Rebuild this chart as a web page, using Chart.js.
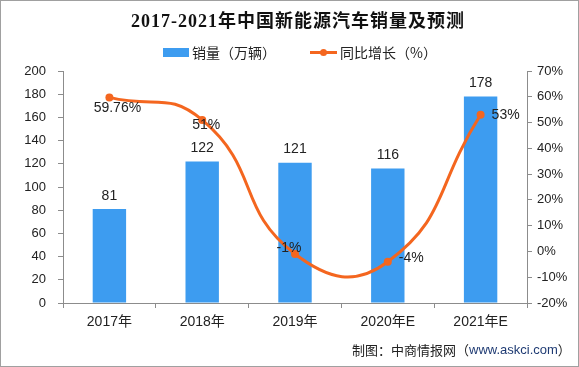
<!DOCTYPE html>
<html>
<head>
<meta charset="utf-8">
<script src="https://cdn.jsdelivr.net/npm/chart.js@4"></script>
<style>
  html, body { margin: 0; padding: 0; background: #fff; }
  #wrap { width: 579px; height: 367px; }
</style>
</head>
<body>
<div id="wrap"><canvas id="salesChart" width="579" height="367"></canvas></div>
<script>
// NEV sales 2017-2021 (with forecast)

const years = ['2017年', '2018年', '2019年', '2020年E', '2021年E'];
const sales = [81, 122, 121, 116, 178];
const growth = [59.76, 51, -1, -4, 53];
const growthText = ['59.76%', '51%', '-1%', '-4%', '53%'];

const titleText = '2017-2021年中国新能源汽车销量及预测';
const sourceText = '制图：中商情报网（';
const sourceUrl = 'www.askci.com';

const blue = '#3D9CF0';
const orange = '#F4661F';
const axisGray = '#8C8C8C';
const tickFont = { family: "'Liberation Sans', 'Noto Sans CJK SC'", size: 13 };

// where each growth label sits relative to its point
const growthPlace = [
  { dx: 8, dy: 11, align: 'center' },
  { dx: 4, dy: 5, align: 'center' },
  { dx: -6, dy: -6, align: 'center' },
  { dx: 11, dy: -4, align: 'left' },
  { dx: 11, dy: 0, align: 'left' }
];

const decorPlugin = {
  id: 'decor',
  beforeDraw(chart) {
    const ctx = chart.ctx;
    ctx.save();
    ctx.fillStyle = '#fff';
    ctx.fillRect(0, 0, chart.width, chart.height);
    ctx.restore();
  },
  afterDraw(chart) {
    const ctx = chart.ctx;
    ctx.save();

    // title
    ctx.fillStyle = '#111';
    ctx.font = "bold 18px 'Liberation Serif', 'Noto Sans CJK SC'";
    ctx.letterSpacing = '1px';
    ctx.textAlign = 'center';
    ctx.textBaseline = 'middle';
    ctx.fillText(titleText, 298, 22);
    ctx.letterSpacing = '0px';

    // legend
    ctx.font = "14px 'Noto Sans CJK SC'";
    ctx.textAlign = 'left';
    ctx.fillStyle = blue;
    ctx.fillRect(163, 48, 26, 9);
    ctx.fillStyle = '#222';
    ctx.fillText(chart.data.datasets[1].label, 192, 53);
    ctx.strokeStyle = orange;
    ctx.lineWidth = 3;
    ctx.beginPath();
    ctx.moveTo(310, 52.5);
    ctx.lineTo(337, 52.5);
    ctx.stroke();
    ctx.fillStyle = orange;
    ctx.beginPath();
    ctx.arc(323.5, 52.5, 3.5, 0, Math.PI * 2);
    ctx.fill();
    ctx.fillStyle = '#222';
    ctx.fillText(chart.data.datasets[0].label, 340, 53);

    // bar value labels
    ctx.font = "14px 'Liberation Sans'";
    ctx.textAlign = 'center';
    const barMeta = chart.getDatasetMeta(1);
    barMeta.data.forEach((bar, i) => {
      ctx.fillText(String(sales[i]), bar.x, bar.y - 13);
    });

    // growth labels
    const lineMeta = chart.getDatasetMeta(0);
    lineMeta.data.forEach((pt, i) => {
      const p = growthPlace[i];
      ctx.textAlign = p.align;
      ctx.fillText(growthText[i], pt.x + p.dx, pt.y + p.dy);
    });

    // source
    ctx.font = "13px 'Noto Sans CJK SC'";
    ctx.textAlign = 'left';
    ctx.fillStyle = '#222';
    let x = 352;
    ctx.fillText(sourceText, x, 350);
    x += ctx.measureText(sourceText).width;
    ctx.fillStyle = '#1F3B73';
    ctx.font = "13px 'Liberation Sans'";
    ctx.fillText(sourceUrl, x, 350);
    x += ctx.measureText(sourceUrl).width;
    ctx.fillStyle = '#222';
    ctx.font = "13px 'Noto Sans CJK SC'";
    ctx.fillText('）', x, 350);

    // outer frame
    ctx.strokeStyle = '#A0A0A0';
    ctx.lineWidth = 1;
    ctx.strokeRect(0.5, 0.5, chart.width - 1, chart.height - 1);
    ctx.restore();
  }
};

const ctx = document.getElementById('salesChart').getContext('2d');
new Chart(ctx, {
  type: 'bar',
  data: {
    labels: years,
    datasets: [
      {
        type: 'line',
        label: '同比增长（%）',
        data: growth,
        yAxisID: 'y1',
        borderColor: orange,
        backgroundColor: orange,
        borderWidth: 3,
        pointRadius: 4,
        pointBackgroundColor: orange,
        pointBorderWidth: 0,
        tension: 0.5,
        order: 0
      },
      {
        type: 'bar',
        label: '销量（万辆）',
        data: sales,
        yAxisID: 'y',
        backgroundColor: blue,
        categoryPercentage: 1,
        barPercentage: 0.36,
        order: 1
      }
    ]
  },
  options: {
    responsive: false,
    animation: false,
    devicePixelRatio: 1,
    layout: { padding: { top: 71, left: 0, right: 0, bottom: 0 } },
    plugins: {
      legend: { display: false },
      title: { display: false },
      tooltip: { enabled: false }
    },
    scales: {
      x: {
        offset: true,
        grid: { display: true, offset: true, drawOnChartArea: false, color: axisGray, tickLength: 5 },
        border: { display: true, color: axisGray },
        ticks: { color: '#222', font: { family: "'Liberation Sans', 'Noto Sans CJK SC'", size: 14 }, padding: 6 },
        afterFit(s) { s.height = 64; }
      },
      y: {
        position: 'left',
        min: 0,
        max: 200,
        ticks: { stepSize: 20, color: '#222', font: tickFont, padding: 12 },
        grid: { display: true, drawOnChartArea: false, color: axisGray, tickLength: 5 },
        border: { display: true, color: axisGray },
        afterFit(s) { s.width = 63; }
      },
      y1: {
        position: 'right',
        min: -20,
        max: 70,
        ticks: { stepSize: 10, color: '#222', font: tickFont, padding: 5, callback: v => v + '%' },
        grid: { display: true, drawOnChartArea: false, color: axisGray, tickLength: 5 },
        border: { display: true, color: axisGray },
        afterFit(s) { s.width = 52; }
      }
    }
  },
  plugins: [decorPlugin]
});
</script>
</body>
</html>
